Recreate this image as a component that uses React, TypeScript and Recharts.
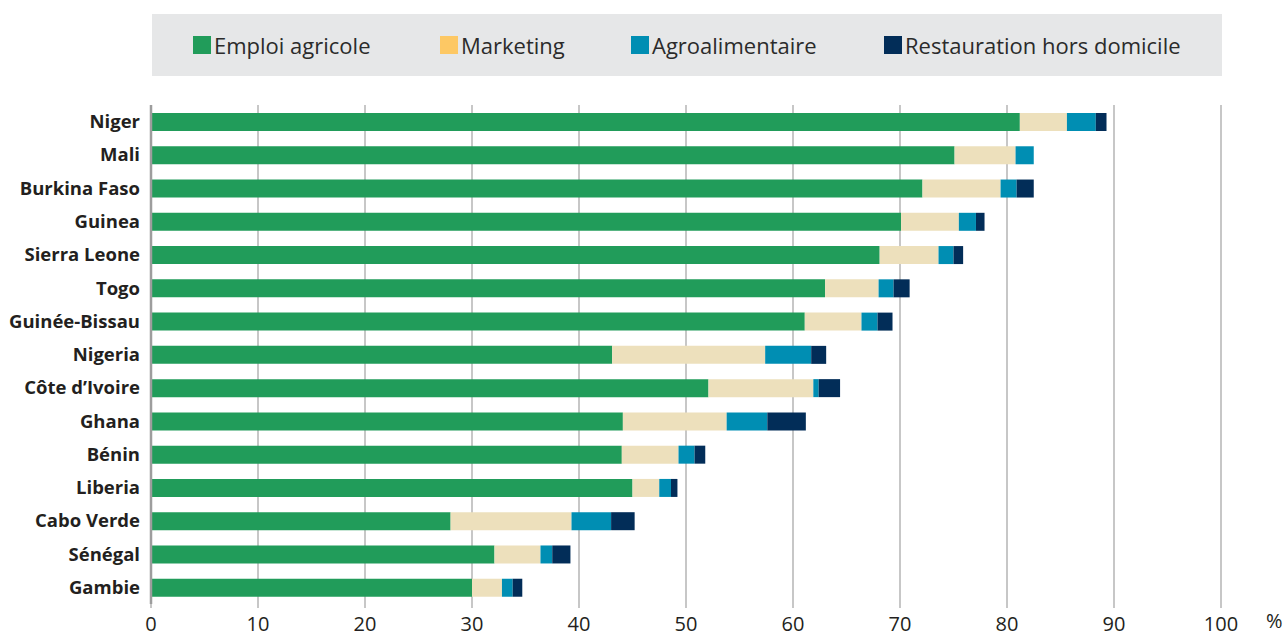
import React from "react";
import { Bar, BarChart, CartesianGrid, Label, XAxis, YAxis } from "recharts";

const COUNTRIES = [
  "Niger", "Mali", "Burkina Faso", "Guinea", "Sierra Leone", "Togo", "Guinée-Bissau",
  "Nigeria", "Côte d’Ivoire", "Ghana", "Bénin", "Liberia", "Cabo Verde", "Sénégal", "Gambie",
];
const EMPLOI = [81.2, 75.1, 72.1, 70.1, 68.1, 63.0, 61.1, 43.1, 52.1, 44.1, 44.0, 45.0, 28.0, 32.1, 30.0];
const MARKETING = [4.4, 5.7, 7.3, 5.4, 5.5, 5.0, 5.3, 14.3, 9.8, 9.7, 5.3, 2.5, 11.3, 4.3, 2.8];
const AGRO = [2.7, 1.7, 1.5, 1.6, 1.4, 1.4, 1.5, 4.3, 0.5, 3.8, 1.5, 1.1, 3.7, 1.1, 1.0];
const RESTAURATION = [1.0, 0, 1.6, 0.8, 0.9, 1.5, 1.4, 1.4, 2.0, 3.6, 1.0, 0.6, 2.2, 1.7, 0.9];
const X_TICKS = [0, 10, 20, 30, 40, 50, 60, 70, 80, 90, 100];

const SERIES = [
  { key: "emploi", label: "Emploi agricole", fill: "#219c5a", swatch: "#219c5a" },
  { key: "marketing", label: "Marketing", fill: "#ede0bc", swatch: "#fdc864" },
  { key: "agro", label: "Agroalimentaire", fill: "#008eb3", swatch: "#008eb3" },
  { key: "restauration", label: "Restauration hors domicile", fill: "#022d58", swatch: "#022d58" },
];

// legend item offsets inside the grey box (px)
const LEGEND_X = [41, 288, 479, 732];

const data = COUNTRIES.map((name, i) => ({
  name,
  emploi: EMPLOI[i],
  marketing: MARKETING[i],
  agro: AGRO[i],
  restauration: RESTAURATION[i],
}));

const FONT = "'Open Sans', 'Noto Sans', sans-serif";

function LegendBox() {
  return (
    <div
      style={{
        position: "absolute",
        left: 152,
        top: 14,
        width: 1070,
        height: 62,
        background: "#e6e7e8",
        fontFamily: FONT,
        fontSize: 22,
        color: "#2b2b2b",
      }}
    >
      {SERIES.map((s, i) => (
        <div
          key={s.key}
          style={{ position: "absolute", left: LEGEND_X[i], top: 0, height: 62, display: "flex", alignItems: "center" }}
        >
          <span style={{ width: 18, height: 18, background: s.swatch, marginRight: 3, display: "inline-block" }} />
          <span>{s.label}</span>
        </div>
      ))}
    </div>
  );
}

export default function App() {
  return (
    <div style={{ position: "absolute", left: 0, top: 0, width: 1288, height: 637, background: "#fff" }}>
      <LegendBox />
      <BarChart
        width={1288}
        height={637}
        data={data}
        layout="vertical"
        margin={{ top: 105, right: 67, bottom: 0, left: 0 }}
        barSize={18}
      >
        <CartesianGrid horizontal={false} stroke="#b5b5b5" strokeWidth={1.5} />
        <XAxis
          type="number"
          domain={[0, 100]}
          ticks={X_TICKS}
          height={33}
          axisLine={false}
          tickLine={{ stroke: "#b5b5b5", strokeWidth: 1.5 }}
          tickSize={4}
          tickMargin={9}
          tick={{ fontFamily: FONT, fontSize: 20, fill: "#231f20" }}
          interval={0}
        >
          <Label value="%" position="right" offset={45} style={{ fontFamily: FONT, fontSize: 20, fill: "#231f20" }} />
        </XAxis>
        <YAxis
          type="category"
          dataKey="name"
          width={151}
          axisLine={{ stroke: "#9d9d9d", strokeWidth: 2.5 }}
          tickLine={false}
          tickMargin={5}
          interval={0}
          tick={{ fontFamily: FONT, fontSize: 18.5, fontWeight: 700, fill: "#231f20" }}
        />
        {SERIES.map((s) => (
          <Bar key={s.key} dataKey={s.key} stackId="a" fill={s.fill} isAnimationActive={false} />
        ))}
      </BarChart>
    </div>
  );
}
